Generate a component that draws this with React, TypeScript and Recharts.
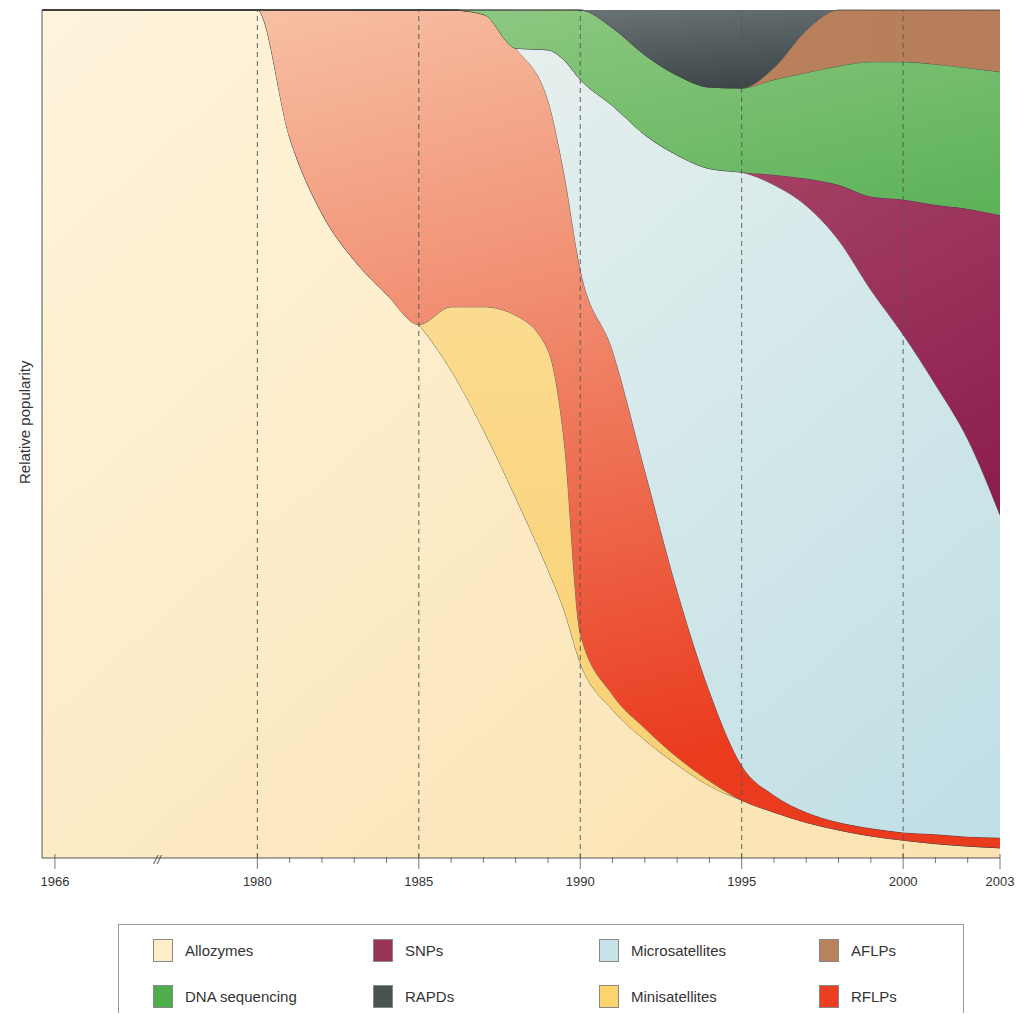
import React from "react";
import { Area, AreaChart, ReferenceLine, XAxis, YAxis } from "recharts";

// 1966 sits at a compressed position left of the axis break
const POS_1966 = 1973.73;
const LEFT_EDGE = 1973.33;
const years = [LEFT_EDGE, 1980, 1981, 1982, 1983, 1984, 1985, 1986, 1987, 1988, 1989, 1989.5, 1990, 1991, 1992, 1993, 1994, 1995, 1996, 1997, 1998, 1999, 2000, 2001, 2002, 2003];

const allozymes = [100, 100, 85, 76, 70.5, 66.5, 62.9, 57.5, 50.5, 42.5, 34, 29.2, 23, 17.5, 13.9, 11, 8.5, 6.8, 5.4, 4.2, 3.3, 2.6, 2.1, 1.7, 1.4, 1.2];
const minisatellites = [0, 0, 0, 0, 0, 0, 0, 7.5, 14.5, 21.5, 25.9, 20, 3.5, 1.8, 1.4, 0.9, 0.6, 0, 0, 0, 0, 0, 0, 0, 0, 0];
const rflps = [0, 0, 15, 24, 29.5, 33.5, 37.1, 35, 34.5, 31.5, 29.5, 31.5, 43, 40.7, 30.4, 19.7, 10.6, 4.1, 2, 1.2, 0.9, 0.9, 0.9, 1.1, 1.1, 1.2];
const microsatellites = [0, 0, 0, 0, 0, 0, 0, 0, 0, 0, 5.9, 13.3, 22.3, 28.9, 39.5, 51.3, 61.6, 69.9, 71.9, 71.6, 68.6, 63.5, 58.6, 53.1, 46.8, 38.1];
const snps = [0, 0, 0, 0, 0, 0, 0, 0, 0, 0, 0, 0, 0, 0, 0, 0, 0, 0, 1.2, 3.2, 6.5, 11, 15.9, 21.2, 27.1, 35.4];
const dnaSequencing = [0, 0, 0, 0, 0, 0, 0, 0, 0.5, 4.5, 4.7, 5.9, 8.2, 9.2, 9.4, 9.4, 9.6, 9.9, 11.2, 12.5, 14, 15.9, 16.2, 16.6, 16.6, 16.9];
const aflps = [0, 0, 0, 0, 0, 0, 0, 0, 0, 0, 0, 0, 0, 0, 0, 0, 0, 0, 1.4, 5, 6.6, 6.1, 6.1, 6.4, 6.8, 7.3];
const rapds = [0, 0, 0, 0, 0, 0, 0, 0, 0, 0, 0, 0, 0, 2.1, 5.3, 7.7, 9.1, 9.2, 6.8, 2.4, 0, 0, 0, 0, 0, 0];

const tickYears = [POS_1966, ...Array.from({ length: 24 }, (_, i) => 1980 + i)];
const majorLabels: Record<number, string> = { 1980: "1980", 1985: "1985", 1990: "1990", 1995: "1995", 2000: "2000", 2003: "2003" };
const dashedYears = [1980, 1985, 1990, 1995, 2000];

const data = years.map((year, i) => ({
  year,
  allozymes: allozymes[i],
  minisatellites: minisatellites[i],
  rflps: rflps[i],
  microsatellites: microsatellites[i],
  snps: snps[i],
  dna: dnaSequencing[i],
  aflps: aflps[i],
  rapds: rapds[i],
}));

const series = [
  { key: "allozymes", grad: "gAllo" },
  { key: "minisatellites", grad: "gMini" },
  { key: "rflps", grad: "gRflp" },
  { key: "microsatellites", grad: "gMicro" },
  { key: "snps", grad: "gSnp" },
  { key: "dna", grad: "gDna" },
  { key: "aflps", grad: "gAflp" },
  { key: "rapds", grad: "gRapd" },
];

const legendItems = [
  { name: "Allozymes", color: "#fdeec9" },
  { name: "SNPs", color: "#9a3358" },
  { name: "Microsatellites", color: "#c6e3ea" },
  { name: "AFLPs", color: "#b9825e" },
  { name: "DNA sequencing", color: "#4fae4c" },
  { name: "RAPDs", color: "#4a5252" },
  { name: "Minisatellites", color: "#fad46e" },
  { name: "RFLPs", color: "#ec3f22" },
];

const font = "'Liberation Sans', Arial, sans-serif";

function YearTick(props: any) {
  const { x, y, payload } = props;
  const v = payload.value;
  const label = v === POS_1966 ? "1966" : majorLabels[v];
  const major = !!label;
  return (
    <g>
      <line x1={x} x2={x} y1={y - (major ? 6 : 3)} y2={y + (major ? 9 : 3)} stroke="#555" strokeWidth={0.8} />
      {label && (
        <text x={x} y={y + 26} textAnchor="middle" fontSize={13} fill="#333" fontFamily={font}>
          {label}
        </text>
      )}
      {v === 1980 && (
        <text x={x - 100} y={y + 4} textAnchor="middle" fontSize={13} fill="#555" fontFamily={font} fontStyle="italic">
          //
        </text>
      )}
    </g>
  );
}

export default function App() {
  return (
    <div style={{ position: "relative", width: 1010, height: 1005, background: "#fff", fontFamily: font }}>
      <AreaChart width={1010} height={900} data={data} stackOffset="expand" margin={{ top: 2, right: 18, bottom: 10, left: 0 }}>
        <defs>
          <linearGradient id="gAllo" x1="0" y1="0" x2="1" y2="1">
            <stop offset="0%" stopColor="#fef4dc" />
            <stop offset="100%" stopColor="#fbe2b0" />
          </linearGradient>
          <linearGradient id="gMini" x1="0" y1="0" x2="0" y2="1">
            <stop offset="0%" stopColor="#fce2a2" />
            <stop offset="100%" stopColor="#f9cf6e" />
          </linearGradient>
          <linearGradient id="gRflp" x1="0" y1="0" x2="0.3" y2="1">
            <stop offset="0%" stopColor="#f8c8ac" />
            <stop offset="50%" stopColor="#f0876a" />
            <stop offset="100%" stopColor="#ea3b1f" />
          </linearGradient>
          <linearGradient id="gMicro" x1="0" y1="0" x2="1" y2="1">
            <stop offset="0%" stopColor="#f4f5f0" />
            <stop offset="100%" stopColor="#bfdfe6" />
          </linearGradient>
          <linearGradient id="gSnp" x1="0" y1="0" x2="1" y2="1">
            <stop offset="0%" stopColor="#c36a7f" />
            <stop offset="100%" stopColor="#8a1c4c" />
          </linearGradient>
          <linearGradient id="gDna" x1="0" y1="0" x2="1" y2="1">
            <stop offset="0%" stopColor="#9bce8e" />
            <stop offset="100%" stopColor="#5cb257" />
          </linearGradient>
          <linearGradient id="gAflp" x1="0" y1="0" x2="1" y2="0">
            <stop offset="0%" stopColor="#c98a62" />
            <stop offset="100%" stopColor="#b57d5a" />
          </linearGradient>
          <linearGradient id="gRapd" x1="0" y1="0" x2="1" y2="1">
            <stop offset="0%" stopColor="#7f8a8c" />
            <stop offset="100%" stopColor="#323a3c" />
          </linearGradient>
        </defs>
        <XAxis
          dataKey="year"
          type="number"
          domain={[LEFT_EDGE, 2003]}
          allowDataOverflow
          height={40}
          ticks={tickYears}
          interval={0}
          tick={<YearTick />}
          tickLine={false}
          tickSize={0}
          axisLine={{ stroke: "#555", strokeWidth: 1 }}
        />
        <YAxis
          width={34}
          domain={[0, 1]}
          tick={false}
          tickLine={false}
          axisLine={{ stroke: "#555", strokeWidth: 1 }}
          label={{ value: "Relative popularity", angle: -90, position: "insideLeft", offset: 17, dy: 50, fill: "#333", fontSize: 15, fontFamily: font }}
        />
        {series.map((s) => (
          <Area
            key={s.key}
            dataKey={s.key}
            stackId="1"
            type="monotone"
            fill={`url(#${s.grad})`}
            fillOpacity={1}
            stroke={s.key === "rapds" ? "none" : "#3a3a3a"}
            strokeWidth={0.8}
            isAnimationActive={false}
          />
        ))}
        {dashedYears.map((y) => (
          <ReferenceLine key={y} x={y} stroke="#555" strokeDasharray="5 4" strokeWidth={0.9} />
        ))}
      </AreaChart>
      <div style={{ position: "absolute", left: 110, top: 916, width: 846, height: 91, border: "1px solid #999", boxSizing: "border-box" }}>
        {legendItems.map((it, i) => {
          const col = i % 4;
          const row = Math.floor(i / 4);
          const lefts = [34, 254, 480, 700];
          return (
            <div key={it.name} style={{ position: "absolute", left: lefts[col], top: 14 + row * 46, display: "flex", alignItems: "center", fontSize: 15, color: "#333" }}>
              <span style={{ display: "inline-block", width: 18, height: 21, background: it.color, border: "1px solid #888", marginRight: 12 }} />
              {it.name}
            </div>
          );
        })}
      </div>
    </div>
  );
}
